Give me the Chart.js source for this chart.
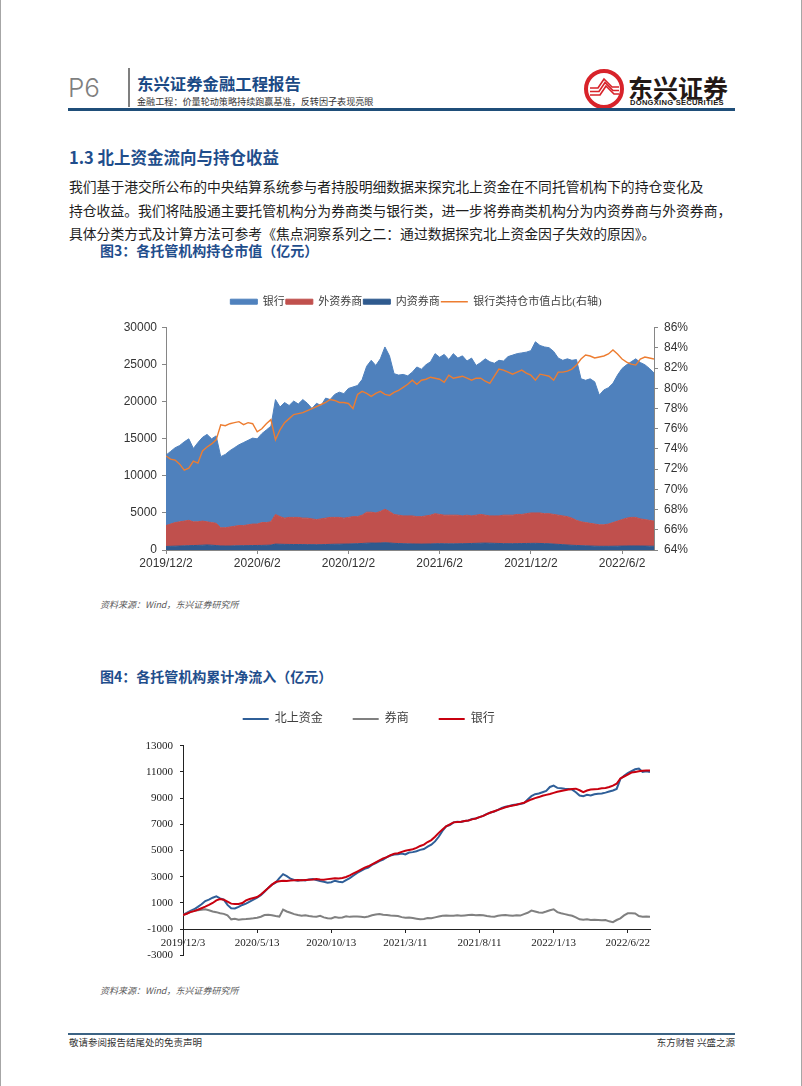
<!DOCTYPE html>
<html><head><meta charset="utf-8">
<script src="https://cdn.jsdelivr.net/npm/chart.js@4.4.1/dist/chart.umd.min.js"></script>
<style>
html,body{margin:0;padding:0;background:#fff;}
body{width:802px;height:1086px;position:relative;overflow:hidden;font-family:"Noto Sans CJK SC",sans-serif;}
.a{position:absolute;white-space:nowrap;}
.blue{color:#1f4e8c;font-weight:bold;}
.para{left:69px;font-size:13.8px;line-height:18px;color:#1e1e1e;}
.src{font-size:9px;line-height:12px;color:#595959;font-style:italic;left:100px;}
.foot{font-size:9.5px;line-height:12px;color:#333;}
</style></head><body>
<div class="a" style="left:0;top:0;width:1px;height:1086px;background:#a6a6a6"></div>
<div class="a" style="left:801px;top:0;width:1px;height:1086px;background:#a6a6a6"></div>

<div class="a" style="left:68px;top:75px;font-family:Inter,'Liberation Sans',sans-serif;font-weight:300;font-size:26px;line-height:26px;color:#7f7f7f">P6</div>
<div class="a" style="left:128px;top:68px;width:1.5px;height:39px;background:#7f7f7f"></div>
<div class="a" style="left:137px;top:73px;font-size:16.4px;line-height:20px;font-weight:bold;color:#1b4a85">东兴证券金融工程报告</div>
<div class="a" style="left:137px;top:95px;font-size:9.1px;line-height:12px;color:#333">金融工程：价量轮动策略持续跑赢基准，反转因子表现亮眼</div>

<svg class="a" style="left:580px;top:66px" width="50" height="46" viewBox="580 66 50 46">
  <circle cx="604" cy="89" r="18" fill="#fff" stroke="#d8232a" stroke-width="4"/>
  <g fill="none" stroke="#d8232a" stroke-width="1.7">
    <polyline points="590,95 600,95 606,86 614,94 619,94"/>
    <polyline points="590,91.5 599,91.5 605,82.5 613,90.5 619,90.5"/>
    <polyline points="590,88 598,88 604,79 612,87 619,87"/>
  </g>
</svg>
<div class="a" style="left:628px;top:73px;font-size:25px;line-height:28px;font-weight:bold;color:#231815">东兴证券</div>
<div class="a" style="left:630px;top:98px;font-family:'Liberation Sans',Arial,sans-serif;font-size:7.6px;line-height:10px;font-weight:bold;letter-spacing:0.25px;color:#231815">DONGXING SECURITIES</div>
<div class="a" style="left:68px;top:108px;width:667px;height:3px;background:#1f4e79"></div>

<div class="a blue" style="left:69px;top:147px;font-size:16.5px;line-height:20px">1.3 北上资金流向与持仓收益</div>
<div class="a para" style="top:177px">我们基于港交所公布的中央结算系统参与者持股明细数据来探究北上资金在不同托管机构下的持仓变化及</div>
<div class="a para" style="top:200.5px">持仓收益。我们将陆股通主要托管机构分为券商类与银行类，进一步将券商类机构分为内资券商与外资券商，</div>
<div class="a para" style="top:224px">具体分类方式及计算方法可参考《焦点洞察系列之二：通过数据探究北上资金因子失效的原因》。</div>
<div class="a blue" style="left:100px;top:241px;font-size:14px;line-height:18px">图3：各托管机构持仓市值（亿元）</div>

<div class="a" style="left:100px;top:285px;width:620px;height:290px"><canvas id="c1"></canvas></div>
<div class="a src" style="top:599px">资料来源：Wind，东兴证券研究所</div>

<div class="a blue" style="left:100px;top:667px;font-size:14px;line-height:18px">图4：各托管机构累计净流入（亿元）</div>
<div class="a" style="left:120px;top:680px;width:540px;height:289px"><canvas id="c2"></canvas></div>
<div class="a src" style="top:985px">资料来源：Wind，东兴证券研究所</div>

<div class="a" style="left:68px;top:1033px;width:667px;height:2px;background:#3b6384"></div>
<div class="a foot" style="left:69px;top:1036px">敬请参阅报告结尾处的免责声明</div>
<div class="a foot" style="right:67px;top:1036px">东方财智 兴盛之源</div>

<script>
// ---------- Chart 1 data (亿元 / %) ----------
const c1Ticks = ['2019/12/2','2020/6/2','2020/12/2','2021/6/2','2021/12/2','2022/6/2'];
const c1Bank = [9500,9800,10100,10300,10700,11000,9900,10700,11300,11800,11300,11800,9600,9900,10300,10600,10900,11200,11400,11600,11500,12000,12500,12900,15500,14800,15600,15100,15700,15300,16000,15500,14900,15700,15300,16200,15900,16600,16900,16800,17400,17500,17700,18300,19700,20500,19900,20600,21900,21000,19000,18900,19100,18900,19400,20200,19900,20400,20700,21600,21200,21700,21000,21800,21200,21600,20800,21300,20200,20500,21100,20800,20600,21000,20800,21400,21600,21700,21800,21800,21900,23100,22600,22500,22400,22000,21200,21000,21300,21300,21700,19300,19200,19500,19200,17500,18200,18400,18800,19700,20400,20700,21000,21400,21100,20900,20500,20000];
const c1Foreign = [2820,3000,3180,3260,3340,3420,3200,3180,3250,3120,3050,3000,2450,2460,2560,2640,2730,2720,2810,2900,2890,3080,3060,3140,4000,3720,3540,3650,3660,3660,3570,3580,3480,3390,3480,3560,3640,3620,3610,3500,3590,3670,3650,3820,4180,4160,4070,4250,4520,4250,3900,3830,3750,3770,3780,3690,3700,3790,3880,4060,3950,3860,3870,3870,3860,3750,3840,3720,3800,3880,3770,3680,3700,3720,3840,3850,3850,3940,3930,4020,4110,4100,4120,4040,4060,4000,3940,3880,3820,3660,3390,3220,3140,3060,2980,2900,2900,3000,3190,3380,3570,3760,3850,3850,3660,3570,3480,3390];
const c1Domestic = [480,500,520,540,560,580,600,620,650,680,650,600,550,540,540,560,570,580,590,600,610,620,640,660,800,780,760,750,740,740,730,720,720,710,720,740,760,780,790,800,810,830,850,880,920,940,930,950,980,950,900,870,850,830,820,810,800,810,820,840,850,840,830,830,840,850,860,880,900,920,930,920,900,880,860,850,850,860,870,880,890,900,880,860,840,800,760,720,680,640,610,580,560,540,520,500,500,500,510,520,530,540,550,550,540,530,520,510];
const c1BankShare = [73.3,73.0,72.9,72.5,71.9,72.1,72.8,72.6,73.8,74.2,74.5,74.9,76.4,76.3,76.5,76.6,76.7,76.4,76.6,76.5,75.7,76.0,76.5,76.9,74.9,75.9,76.6,77.0,77.4,77.5,77.6,77.8,78.0,78.2,78.4,78.6,78.9,78.8,78.6,78.6,78.5,78.0,79.4,79.7,79.5,79.2,79.5,79.7,79.4,79.3,79.6,79.8,80.1,80.4,80.8,80.4,80.8,80.9,81.1,81.0,80.9,80.6,81.3,81.0,81.1,81.2,81.0,80.8,81.0,81.0,80.7,80.5,81.2,81.9,81.8,81.6,81.4,81.6,81.8,81.5,81.3,80.8,81.4,81.3,81.2,80.8,81.6,81.6,81.7,81.9,82.3,82.9,83.3,83.2,83.0,83.1,83.2,83.4,83.8,83.4,82.9,82.6,82.4,82.3,82.9,83.1,83.0,82.9];

// ---------- Chart 2 data (亿元) ----------
const c2Ticks = ['2019/12/3','2020/5/13','2020/10/13','2021/3/11','2021/8/11','2022/1/13','2022/6/22'];
const c2North = [100,250,400,520,700,900,1150,1250,1400,1500,1350,1250,850,600,580,700,850,950,1100,1250,1400,1600,1850,2150,2400,2550,2900,3200,3050,2850,2750,2700,2750,2720,2800,2830,2750,2680,2620,2550,2580,2700,2620,2580,2750,2900,3100,3300,3450,3600,3700,3900,4050,4200,4300,4500,4620,4700,4720,4780,4700,4850,4880,4950,5050,5120,5300,5450,5700,6050,6500,6850,6950,7150,7200,7180,7250,7300,7400,7450,7550,7650,7800,7900,7980,8100,8250,8350,8400,8480,8520,8560,8620,8900,9150,9300,9350,9450,9550,9850,9950,9780,9750,9720,9700,9650,9450,9200,9150,9250,9200,9300,9330,9350,9420,9500,9580,9700,10450,10700,10900,11050,11200,11250,11000,11050,11000];
const c2Broker = [80,200,320,400,450,480,520,450,350,300,220,170,50,-250,-200,-280,-250,-230,-200,-170,-120,-50,80,100,60,0,-40,500,350,250,150,80,30,60,0,-30,-50,20,-100,-170,-180,-80,-120,-100,-20,-60,-40,-30,-50,-80,-30,60,120,160,100,80,50,30,0,-80,-120,-100,-150,-200,-250,-220,-150,-170,-100,-30,30,40,20,30,60,20,50,80,100,60,80,70,10,-30,-45,20,60,80,50,20,60,40,150,250,420,350,280,260,350,450,520,300,220,150,80,20,-100,-250,-280,-250,-300,-280,-300,-320,-300,-400,-460,-300,-170,50,210,220,200,0,-50,-40,-45];
const c2Bank = [80,180,300,380,480,600,720,850,1000,1200,1300,1250,1100,950,930,920,1000,1200,1300,1380,1450,1650,1900,2150,2400,2600,2650,2700,2680,2720,2730,2750,2740,2760,2780,2800,2830,2800,2780,2820,2850,2880,2870,2900,2980,3100,3250,3400,3550,3700,3800,3950,4100,4250,4400,4500,4650,4750,4800,4900,4980,5050,5100,5200,5350,5450,5650,5800,6050,6350,6600,6850,7000,7150,7180,7200,7250,7300,7380,7450,7550,7650,7780,7900,8000,8100,8200,8300,8380,8430,8500,8580,8650,8780,8900,9000,9080,9180,9250,9320,9400,9480,9550,9600,9650,9700,9720,9600,9450,9580,9650,9680,9700,9750,9780,9850,9950,10100,10500,10650,10800,10950,11000,11050,11080,11100,11100];

const TICK_EVERY = 20;
const pts = a => a.map((v, i) => ({x: i, y: v}));
const legendShift = {
  id: 'legendShift',
  afterLayout(chart, args, opts) {
    const l = chart.legend; if (!l) return;
    l.left += opts.dx || 0; l.right += opts.dx || 0;
    l.top += opts.dy || 0; l.bottom += opts.dy || 0;
  }
};
const sans = '"Liberation Sans", Arial, sans-serif';
const serifCJK = '"Liberation Serif", "Noto Sans CJK SC", serif';

// ---------- Chart 1 ----------
const rank1 = {2: 0, 1: 1, 0: 2, 3: 3};
new Chart(document.getElementById('c1'), {
  type: 'line',
  plugins: [legendShift],
  data: { datasets: [
    {label: '内资券商', data: pts(c1Domestic), backgroundColor: '#2f5a8e', borderColor: '#2f5a8e', borderWidth: 1, fill: 'origin', pointStyle: 'rect', yAxisID: 'y'},
    {label: '外资券商', data: pts(c1Foreign), backgroundColor: '#c0504d', borderColor: '#c0504d', borderWidth: 1, fill: '-1', pointStyle: 'rect', yAxisID: 'y'},
    {label: '银行', data: pts(c1Bank), backgroundColor: '#4f81bd', borderColor: '#4f81bd', borderWidth: 1, fill: '-1', pointStyle: 'rect', yAxisID: 'y'},
    {label: '银行类持仓市值占比(右轴)', data: pts(c1BankShare), backgroundColor: '#ed7d31', borderColor: '#ed7d31', borderWidth: 1.4, fill: false, pointStyle: 'line', yAxisID: 'y1', order: -1}
  ]},
  options: {
    responsive: true, maintainAspectRatio: false, animation: false, devicePixelRatio: 1, events: [],
    layout: {padding: {top: 20.7, left: 0, right: 0, bottom: 0}},
    elements: {point: {radius: 0}, line: {tension: 0}},
    plugins: {
      tooltip: {enabled: false},
      legend: {labels: {usePointStyle: true, pointStyleWidth: 27, boxHeight: 5, padding: 1, color: '#404040',
        font: {size: 11, family: serifCJK}, sort: (a, b) => rank1[a.datasetIndex] - rank1[b.datasetIndex]}},
      legendShift: {dx: 6, dy: -10.5}
    },
    scales: {
      x: {type: 'linear', min: 0, max: c1Bank.length - 1,
        grid: {drawOnChartArea: false, drawTicks: true, tickLength: 4, color: '#868686'},
        border: {color: '#868686'},
        ticks: {stepSize: TICK_EVERY, includeBounds: false, autoSkip: false, maxRotation: 0, padding: 2, color: '#333',
          font: {size: 12, family: sans}, callback: v => c1Ticks[v / TICK_EVERY] ?? ''},
        afterFit: s => { s.height = 25; }},
      y: {stacked: true, min: 0, max: 30000,
        grid: {drawOnChartArea: false, tickLength: 4, color: '#868686'}, border: {color: '#868686'},
        ticks: {stepSize: 5000, padding: 5, color: '#333', font: {size: 12, family: sans}, callback: v => String(v)},
        afterFit: s => { s.width = 66; }},
      y1: {position: 'right', min: 64, max: 86,
        grid: {drawOnChartArea: false, tickLength: 4, color: '#868686'}, border: {color: '#868686'},
        ticks: {stepSize: 2, padding: 6, color: '#333', font: {size: 12, family: sans}, callback: v => v + '%'},
        afterFit: s => { s.width = 66; }}
    }
  }
});

// ---------- Chart 2 ----------
new Chart(document.getElementById('c2'), {
  type: 'line',
  plugins: [legendShift],
  data: { datasets: [
    {label: '北上资金', data: pts(c2North), borderColor: '#2f5f98', backgroundColor: '#2f5f98', borderWidth: 2, pointStyle: 'line', order: 2},
    {label: '券商', data: pts(c2Broker), borderColor: '#808080', backgroundColor: '#808080', borderWidth: 2, pointStyle: 'line', order: 1},
    {label: '银行', data: pts(c2Bank), borderColor: '#c8000f', backgroundColor: '#c8000f', borderWidth: 2, pointStyle: 'line', order: 0}
  ]},
  options: {
    responsive: true, maintainAspectRatio: false, animation: false, devicePixelRatio: 1, events: [],
    layout: {padding: {top: 13.7, left: 0, right: 10, bottom: 7}},
    elements: {point: {radius: 0}, line: {tension: 0}},
    plugins: {
      tooltip: {enabled: false},
      legend: {labels: {usePointStyle: true, pointStyleWidth: 26, padding: 30, color: '#404040',
        font: {size: 12, family: serifCJK}, sort: (a, b) => a.datasetIndex - b.datasetIndex}},
      legendShift: {dx: -16.3, dy: -10.7}
    },
    scales: {
      x: {type: 'linear', position: {y: -1000}, min: 0, max: c2North.length - 1,
        grid: {drawOnChartArea: false, drawTicks: true, tickLength: 3, color: '#222'},
        border: {color: '#222'},
        ticks: {stepSize: TICK_EVERY, includeBounds: false, autoSkip: false, maxRotation: 0, padding: 4.4, color: '#222',
          font: {size: 11, family: '"Liberation Serif", serif'}, callback: v => c2Ticks[v / TICK_EVERY] ?? ''}},
      y: {min: -3000, max: 13000,
        grid: {drawOnChartArea: false, tickLength: 3, color: '#222'}, border: {color: '#222'},
        ticks: {stepSize: 2000, padding: 7, color: '#222', font: {size: 11, family: '"Liberation Serif", serif'}, callback: v => String(v)},
        afterFit: s => { s.width = 63; }}
    }
  }
});
</script>
</body></html>
